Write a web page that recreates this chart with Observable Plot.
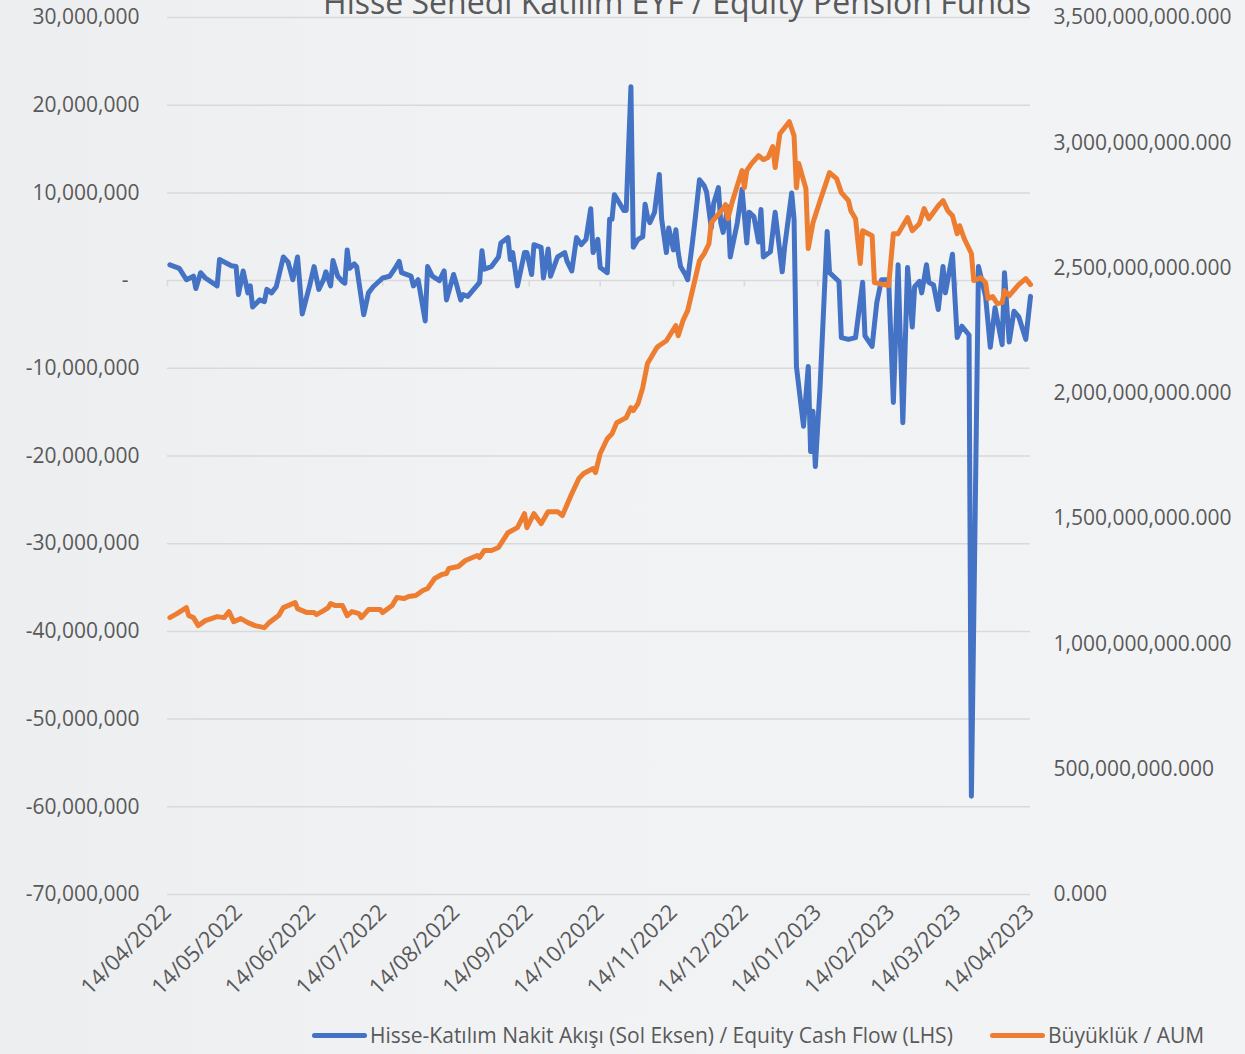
<!DOCTYPE html>
<html>
<head>
<meta charset="utf-8">
<script src="https://cdn.jsdelivr.net/npm/d3@7"></script>
<script src="https://cdn.jsdelivr.net/npm/@observablehq/plot@0.6"></script>
<style>
  html, body { margin: 0; padding: 0; background: #eff0f2; }
  #wrap { position: relative; width: 1245px; height: 1054px; overflow: hidden;
          font-family: "Open Sans", sans-serif; color: #595959;
          background: linear-gradient(90deg, #eceef0 0%, #f1f2f4 40%, #f2f3f5 100%); }
  #title { position: absolute; top: -14px; left: 677px; transform: translateX(-50%);
           white-space: nowrap; font-size: 32px; line-height: 32px; color: #595959; }
  #chart { position: absolute; top: 0; left: 0; }
  #legend { position: absolute; top: 1000px; left: 0; width: 1245px; height: 54px; }
  .sw { position: absolute; top: 33px; width: 55px; height: 5px; border-radius: 3px; }
  .lt { position: absolute; top: 21px; font-size: 21px; line-height: 28px; white-space: nowrap; color: #595959; }
</style>
</head>
<body>
<div id="wrap">
  <div id="chart"></div>
  <div id="title">Hisse Senedi Katılım EYF / Equity Pension Funds</div>
  <div id="legend">
    <span class="sw" style="left:312px;background:#4472C4"></span>
    <span class="lt" style="left:370px">Hisse-Katılım Nakit Akışı (Sol Eksen) / Equity Cash Flow (LHS)</span>
    <span class="sw" style="left:990px;background:#ED7D31"></span>
    <span class="lt" style="left:1048px">Büyüklük / AUM</span>
  </div>
</div>
<script>
// ---- Data ----
const cashDates = [
  "2022-04-15","2022-04-19","2022-04-22","2022-04-25","2022-04-26","2022-04-28","2022-04-30",
  "2022-05-05","2022-05-06","2022-05-11","2022-05-13","2022-05-14","2022-05-16","2022-05-18","2022-05-19","2022-05-20","2022-05-23","2022-05-25","2022-05-26","2022-05-28","2022-05-30",
  "2022-06-02","2022-06-04","2022-06-06","2022-06-08","2022-06-10","2022-06-13","2022-06-15","2022-06-17","2022-06-19","2022-06-20","2022-06-22","2022-06-23","2022-06-25","2022-06-27","2022-06-28","2022-06-29","2022-06-30",
  "2022-07-02","2022-07-03","2022-07-06","2022-07-08","2022-07-10","2022-07-14","2022-07-17","2022-07-19","2022-07-21","2022-07-22","2022-07-26","2022-07-27","2022-07-29",
  "2022-08-01","2022-08-02","2022-08-04","2022-08-07","2022-08-09","2022-08-10","2022-08-13","2022-08-14","2022-08-16","2022-08-17","2022-08-19","2022-08-24","2022-08-25","2022-08-26","2022-08-29",
  "2022-09-01","2022-09-02","2022-09-05","2022-09-06","2022-09-07","2022-09-09","2022-09-12","2022-09-13","2022-09-15","2022-09-16","2022-09-19","2022-09-20","2022-09-22","2022-09-23","2022-09-26","2022-09-29","2022-09-30",
  "2022-10-02","2022-10-04","2022-10-06","2022-10-08","2022-10-10","2022-10-11","2022-10-13","2022-10-14","2022-10-17","2022-10-18","2022-10-19","2022-10-20","2022-10-22","2022-10-24","2022-10-25","2022-10-27","2022-10-28","2022-10-30",
  "2022-11-01","2022-11-02","2022-11-03","2022-11-04","2022-11-06","2022-11-08","2022-11-09","2022-11-11","2022-11-12","2022-11-14","2022-11-15","2022-11-16","2022-11-17","2022-11-19","2022-11-20","2022-11-22","2022-11-23","2022-11-25","2022-11-27","2022-11-28","2022-11-30",
  "2022-12-01","2022-12-03","2022-12-04","2022-12-05","2022-12-07","2022-12-08","2022-12-11","2022-12-13","2022-12-15","2022-12-16","2022-12-18","2022-12-20","2022-12-21","2022-12-22","2022-12-25","2022-12-27","2022-12-30","2022-12-31",
  "2023-01-03","2023-01-04","2023-01-05","2023-01-08","2023-01-10","2023-01-11","2023-01-12","2023-01-13","2023-01-15","2023-01-18","2023-01-19","2023-01-23","2023-01-24","2023-01-27","2023-01-30",
  "2023-02-02","2023-02-03","2023-02-06","2023-02-08","2023-02-10","2023-02-13","2023-02-15","2023-02-17","2023-02-19","2023-02-21","2023-02-23","2023-02-24","2023-02-26","2023-02-27",
  "2023-03-01","2023-03-02","2023-03-04","2023-03-06","2023-03-08","2023-03-09","2023-03-12","2023-03-14","2023-03-16","2023-03-19","2023-03-20","2023-03-23","2023-03-26","2023-03-28","2023-03-30",
  "2023-04-02","2023-04-03","2023-04-05","2023-04-07","2023-04-09","2023-04-12","2023-04-14"
];
// Equity cash flow, millions TL (left axis)
const cashFlowMn = [
  1.8,1.4,0.1,0.5,-0.9,0.9,0.3,
  -0.6,2.4,1.7,1.6,-1.6,1.1,-1.4,-0.6,-3.0,-2.2,-2.4,-1.0,-1.4,-0.7,
  2.7,2.1,0.1,2.7,-3.8,-0.7,1.6,-1.0,0.1,1.0,-0.6,2.3,0.5,-0.1,-0.3,3.5,1.4,
  1.9,1.6,-3.9,-1.4,-0.7,0.3,0.5,1.3,2.2,0.9,0.5,-0.6,0.1,
  -4.6,1.6,0.5,0.0,1.1,-2.2,0.7,-0.2,-2.2,-1.6,-1.8,-0.2,3.4,1.3,1.6,
  2.7,4.3,4.9,2.4,3.2,-0.6,3.2,3.2,0.7,4.1,3.8,0.3,3.6,0.5,2.7,3.2,2.2,
  1.1,4.9,4.1,4.7,8.2,3.2,4.7,1.5,0.9,7.0,7.0,9.8,8.9,8.0,8.0,22.1,3.8,4.7,
  5.0,8.7,7.3,6.6,7.8,12.1,7.0,3.2,6.0,3.5,5.8,3.2,1.6,0.7,0.1,4.3,6.6,11.5,10.8,10.1,6.0,
  8.8,10.6,6.6,5.5,8.4,2.7,6.6,10.4,4.3,7.8,7.3,4.4,8.1,2.7,3.3,7.8,1.0,3.8,
  10.0,7.0,-9.8,-16.6,-9.8,-19.5,-14.9,-21.2,-12.1,5.6,0.9,-0.1,-6.5,-6.7,-6.5,
  -0.2,-6.3,-7.5,-2.5,0.1,0.1,-13.9,1.8,-16.2,1.5,-5.3,-0.7,-0.1,-1.4,
  1.8,-0.2,-0.5,-3.3,1.6,-1.4,3.0,-6.5,-5.2,-6.2,-58.8,1.6,-1.8,-7.6,-3.1,
  -7.3,0.9,-7.0,-3.5,-4.1,-6.7,-1.8
];

const aumDates = [
  "2022-04-15","2022-04-18","2022-04-22","2022-04-23","2022-04-25","2022-04-27","2022-04-30",
  "2022-05-05","2022-05-08","2022-05-10","2022-05-12","2022-05-15","2022-05-18","2022-05-21","2022-05-25","2022-05-27","2022-05-31",
  "2022-06-02","2022-06-07","2022-06-08","2022-06-12","2022-06-15","2022-06-16","2022-06-19","2022-06-21","2022-06-22","2022-06-24","2022-06-27","2022-06-29",
  "2022-07-01","2022-07-04","2022-07-05","2022-07-08","2022-07-13","2022-07-14","2022-07-18","2022-07-20","2022-07-23","2022-07-25","2022-07-28","2022-07-31",
  "2022-08-02","2022-08-05","2022-08-08","2022-08-10","2022-08-11","2022-08-15","2022-08-18","2022-08-23","2022-08-24","2022-08-26","2022-08-29",
  "2022-09-01","2022-09-05","2022-09-09","2022-09-12","2022-09-13","2022-09-16","2022-09-19","2022-09-22","2022-09-26","2022-09-28",
  "2022-10-02","2022-10-05","2022-10-07","2022-10-11","2022-10-12","2022-10-14","2022-10-17","2022-10-19","2022-10-21","2022-10-25","2022-10-27","2022-10-28","2022-10-30",
  "2022-11-01","2022-11-03","2022-11-07","2022-11-08","2022-11-11","2022-11-15","2022-11-16","2022-11-18","2022-11-20","2022-11-23","2022-11-25","2022-11-27","2022-11-29","2022-11-30",
  "2022-12-05","2022-12-06","2022-12-07","2022-12-09","2022-12-13","2022-12-14","2022-12-15","2022-12-17","2022-12-20","2022-12-22","2022-12-24","2022-12-26","2022-12-27","2022-12-29",
  "2023-01-02","2023-01-04","2023-01-05","2023-01-06","2023-01-09","2023-01-10","2023-01-12","2023-01-15","2023-01-19","2023-01-22","2023-01-24","2023-01-27","2023-01-28","2023-01-30",
  "2023-02-01","2023-02-02","2023-02-06","2023-02-07","2023-02-13","2023-02-15","2023-02-17","2023-02-19","2023-02-21","2023-02-23","2023-02-26","2023-02-28",
  "2023-03-02","2023-03-06","2023-03-08","2023-03-10","2023-03-12","2023-03-14","2023-03-15","2023-03-17","2023-03-20","2023-03-21","2023-03-24","2023-03-26","2023-03-27","2023-03-29","2023-03-31",
  "2023-04-02","2023-04-03","2023-04-05","2023-04-09","2023-04-12","2023-04-14"
];
// Assets under management, millions TL (right axis)
const aumMn = [
  1105,1121,1145,1113,1105,1073,1093,
  1109,1105,1129,1089,1101,1085,1073,1065,1085,1113,
  1145,1165,1141,1125,1125,1117,1133,1145,1161,1153,1153,1113,
  1129,1121,1105,1137,1137,1125,1153,1185,1181,1189,1193,1213,
  1221,1261,1277,1281,1301,1309,1333,1353,1345,1373,1373,
  1385,1444,1464,1520,1464,1520,1480,1528,1528,1512,
  1600,1660,1680,1700,1684,1760,1819,1839,1883,1903,1943,1931,1959,
  2023,2119,2183,2191,2210,2270,2230,2290,2330,2450,2530,2558,2597,2681,
  2737,2753,2697,2769,2889,2821,2889,2917,2949,2933,2941,2985,2901,3036,
  3084,3028,2821,2917,2817,2578,2681,2769,2881,2857,2801,2769,2729,2697,
  2518,2649,2629,2442,2430,2637,2637,2669,2701,2649,2677,2737,
  2697,2749,2769,2729,2709,2637,2669,2617,2558,2450,2462,2442,2378,2386,2358,
  2362,2410,2390,2434,2458,2434
];

const leftTicks = [-70e6,-60e6,-50e6,-40e6,-30e6,-20e6,-10e6,0,10e6,20e6,30e6];
const rightTicks = [0,5e8,1e9,1.5e9,2e9,2.5e9,3e9,3.5e9];
const xTickDates = ["2022-04-14","2022-05-14","2022-06-14","2022-07-14","2022-08-14","2022-09-14","2022-10-14",
                    "2022-11-14","2022-12-14","2023-01-14","2023-02-14","2023-03-14","2023-04-14"];

// ---- Build ----
const parse = d3.utcParse("%Y-%m-%d");
const LEFT_MIN = -70e6, LEFT_MAX = 30e6, RIGHT_MIN = 0, RIGHT_MAX = 3.5e9;
const toLeft = v => LEFT_MIN + (v - RIGHT_MIN) / (RIGHT_MAX - RIGHT_MIN) * (LEFT_MAX - LEFT_MIN);
const fromLeft = y => RIGHT_MIN + (y - LEFT_MIN) / (LEFT_MAX - LEFT_MIN) * (RIGHT_MAX - RIGHT_MIN);

const cash = cashDates.map((d, i) => ({date: parse(d), value: cashFlowMn[i] * 1e6}));
const aum = aumDates.map((d, i) => ({date: parse(d), value: toLeft(aumMn[i] * 1e6)}));
const xTicks = xTickDates.map(parse);

const fmtInt = d3.format(",");
const fmtLeft = v => v === 0 ? "-\u00a0\u00a0" : (v < 0 ? "-" : "") + fmtInt(Math.abs(v));
const fmtRight = v => d3.format(",.3f")(Math.round(v));

const chart = Plot.plot({
  width: 1245,
  height: 1000,
  marginTop: 17,
  marginBottom: 106,
  marginLeft: 167,
  marginRight: 215,
  style: {background: "transparent", fontFamily: "'Open Sans', sans-serif", fontSize: "21px", color: "#595959", overflow: "visible"},
  x: {type: "utc", domain: [parse("2022-04-14"), parse("2023-04-14")], label: null},
  y: {domain: [LEFT_MIN, LEFT_MAX], label: null},
  marks: [
    Plot.ruleY(leftTicks, {stroke: "#d9d9d9", strokeWidth: 1.5}),
    Plot.ruleX(xTicks, {x: d => d, y1: 0, y2: -0.7e6, stroke: "#d9d9d9", strokeWidth: 1.5}),
    Plot.axisY(leftTicks, {anchor: "left", tickSize: 0, tickPadding: 28, tickFormat: fmtLeft, label: null}),
    Plot.axisY(rightTicks.map(toLeft), {anchor: "right", tickSize: 0, tickPadding: 23, tickFormat: d => fmtRight(fromLeft(d)), label: null}),
    Plot.axisX(xTicks, {anchor: "bottom", tickSize: 0, tickPadding: 14, tickRotate: -45, fontSize: 22, tickFormat: d3.utcFormat("%d/%m/%Y"), label: null}),
    Plot.line(cash, {x: "date", y: "value", stroke: "#4472C4", strokeWidth: 5, strokeLinejoin: "round", strokeLinecap: "round"}),
    Plot.line(aum, {x: "date", y: "value", stroke: "#ED7D31", strokeWidth: 5, strokeLinejoin: "round", strokeLinecap: "round"})
  ]
});
document.getElementById("chart").appendChild(chart);
</script>
</body>
</html>
